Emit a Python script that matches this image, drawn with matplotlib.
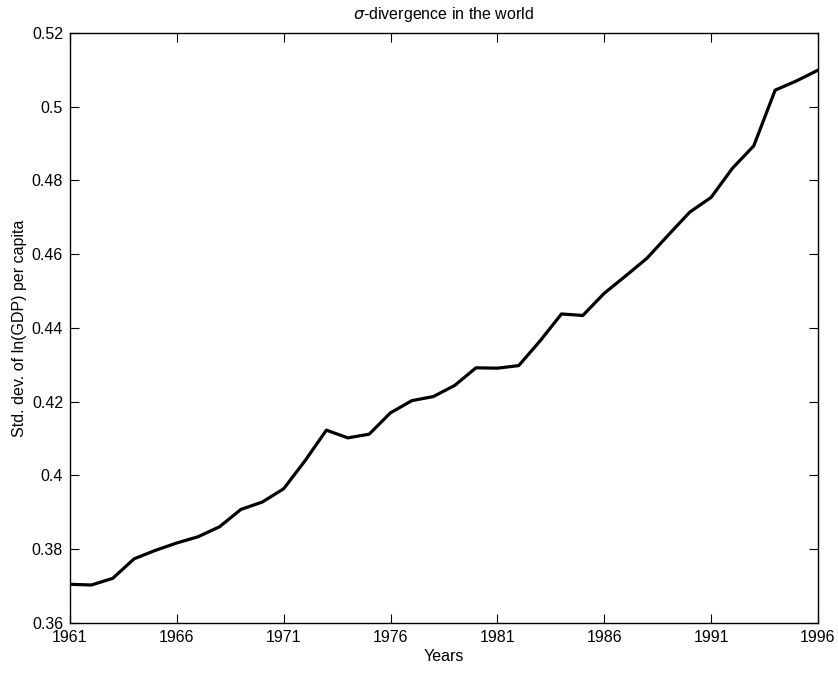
import matplotlib
matplotlib.use("Agg")
import matplotlib.pyplot as plt

plt.rcParams['font.family'] = ['Liberation Sans', 'DejaVu Sans']

years = list(range(1961, 1997))
sigma = [0.3705, 0.3703, 0.3721, 0.3774, 0.3797, 0.3817, 0.3834, 0.3861,
         0.3908, 0.3928, 0.3964, 0.4040, 0.4123, 0.4102, 0.4112, 0.4170,
         0.4203, 0.4214, 0.4244, 0.4292, 0.4291, 0.4298, 0.4365, 0.4438,
         0.4434, 0.4494, 0.4541, 0.4589, 0.4652, 0.4714, 0.4754, 0.4833,
         0.4894, 0.5045, 0.5070, 0.5099]
xticks = [1961, 1966, 1971, 1976, 1981, 1986, 1991, 1996]
yticks = [0.36, 0.38, 0.40, 0.42, 0.44, 0.46, 0.48, 0.50, 0.52]
ytick_labels = ['0.36', '0.38', '0.4', '0.42', '0.44', '0.46', '0.48', '0.5', '0.52']

fs = 11.5

fig = plt.figure(figsize=(8.38, 6.73), dpi=100)
ax = fig.add_axes([0.0835, 0.0743, 0.8925, 0.8767])

ax.plot(years, sigma, color='black', linewidth=2.3)

ax.set_xlim(1961, 1996)
ax.set_ylim(0.36, 0.52)
ax.set_xticks(xticks)
ax.set_yticks(yticks)
ax.set_yticklabels(ytick_labels)

ax.tick_params(direction='in', length=6.5, width=0.8, top=True, right=True,
               labelsize=fs, colors='black')
ax.tick_params(axis='x', pad=5)
ax.tick_params(axis='y', pad=5)
for s in ax.spines.values():
    s.set_linewidth(1.0)

ax.set_title(r'$\sigma$-divergence in the world', fontsize=fs, pad=10)
ax.set_xlabel('Years', fontsize=fs, labelpad=3)
ax.set_ylabel('Std. dev. of ln(GDP) per capita', fontsize=fs, labelpad=3)

fig.savefig('out.png', dpi=100)
